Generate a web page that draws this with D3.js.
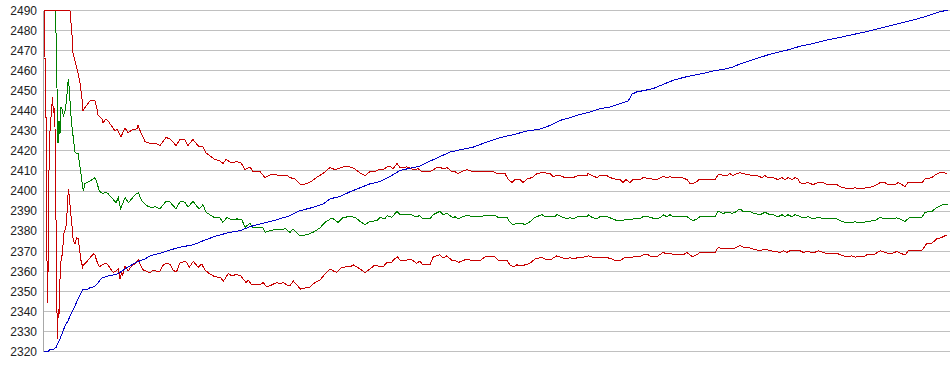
<!DOCTYPE html>
<html>
<head>
<meta charset="utf-8">
<script src="https://cdn.jsdelivr.net/npm/d3@7"></script>
<style>
  html, body { margin: 0; padding: 0; background: #ffffff; }
  svg { display: block; }
</style>
</head>
<body>
<svg id="chart" width="950" height="375"></svg>
<script>
// ---- data (x = sample step, y = value) ----
const yTickValues = [2320, 2330, 2340, 2350, 2360, 2370, 2380, 2390, 2400, 2410, 2420, 2430, 2440, 2450, 2460, 2470, 2480, 2490];
const stepDomain = [0, 452];

const upperBand = [[0,2466],[0.5,2490],[13,2490],[14,2478],[14.5,2469],[15.5,2465],[16.5,2461],[17,2459],[18,2454],[18.5,2450],[19,2446],[19.5,2440],[20,2441],[21.5,2443],[23,2445],[25.5,2445],[26.5,2441],[27,2438],[29,2436],[29.5,2434],[31,2436],[32,2435],[35.5,2430],[36.5,2431],[38.5,2427],[40.5,2431.5],[42,2429],[44,2430.5],[46.5,2431],[47,2432.7],[48.5,2429],[50.5,2424.7],[53,2423.7],[56.5,2423.5],[58,2422.7],[61,2426.7],[63,2426],[66,2422.7],[68,2425.7],[70.5,2425.5],[72,2422.7],[74.5,2425.7],[77.5,2422],[79.5,2422],[81,2419],[85.5,2415.7],[88,2415],[89.5,2413.7],[91,2415.7],[94,2414],[96.5,2414.7],[98.5,2414],[100.5,2410.7],[103,2412],[104.5,2409.7],[108,2409.7],[110.5,2406.7],[113,2408],[116.5,2408],[119,2407.7],[121.5,2408],[123,2406.7],[125.5,2406],[128.5,2403],[131.5,2403.7],[134,2405],[136.5,2407],[139.5,2408.7],[143,2411.7],[145.5,2410.7],[148,2411.5],[149.5,2412],[153,2412],[155.5,2411],[158,2409],[160.5,2407.7],[163,2409.7],[165.5,2409.7],[168,2411],[169.5,2410.7],[171.5,2412],[173.5,2412],[174.5,2411],[176.5,2413.7],[178,2411.7],[181.5,2412],[184,2411],[185.5,2410.7],[187,2411.2],[189,2409.7],[193,2409.7],[196.5,2411.7],[198,2412],[199.5,2411],[201.5,2411.7],[204,2409.7],[205.5,2409.7],[207,2408.7],[209,2409.7],[211.5,2410.7],[214.5,2409.7],[224.5,2409.7],[226.5,2408.7],[230.5,2408.7],[232,2406],[234,2404.2],[235.5,2405.7],[238,2405.7],[239.5,2404.2],[241.5,2406],[244,2406.7],[246.5,2408.7],[249.5,2409.2],[253,2408.7],[254.5,2407.2],[257,2408],[260.5,2406.7],[263,2407],[264.5,2406.7],[267,2407.7],[271.5,2407.7],[272,2408.7],[274,2407.7],[276.5,2406.7],[278,2407.7],[281.5,2407.7],[283,2406.7],[285.5,2406],[288,2405.7],[289.5,2404.2],[291,2405.7],[293,2404.2],[294.5,2405.7],[298,2405.7],[299.5,2406.7],[304,2406],[306.5,2405.7],[309.5,2407.2],[311.5,2406.7],[313,2407.2],[314.5,2406.7],[319,2406.7],[321.5,2405.7],[323,2403.7],[324.5,2403.7],[326.5,2404.7],[327.5,2405.7],[335.5,2405.7],[337,2408],[339,2408],[341.5,2407.7],[343,2408.7],[344.5,2407.7],[346.5,2408.7],[348,2409.2],[349.5,2408.7],[353,2408],[356.5,2407.7],[359,2406.7],[360.5,2407.7],[362,2406.7],[364.5,2406.7],[367,2405.7],[369,2406.7],[370.5,2405.7],[372,2406.7],[374,2405.7],[375.5,2406.7],[377,2406],[378,2404.2],[379.5,2403.7],[382,2404.2],[384.5,2403.2],[387,2404.2],[389.5,2404.2],[391.5,2403.2],[396.5,2403.2],[398,2402.2],[401.5,2401.2],[404,2401.2],[405.5,2401.7],[407,2401.2],[409.5,2401.2],[411.5,2401.7],[414.5,2402.2],[416.5,2403.2],[418,2404.2],[420.5,2404.2],[422,2403.2],[425.5,2403.2],[427,2404.2],[429,2403.2],[430.5,2402.2],[432,2404.2],[439,2404.2],[440.5,2406],[444,2406.7],[445.5,2408],[448,2409.2],[449.5,2409.2],[451.5,2408.7]];

const middleLine = [[0,2490],[5.5,2490],[6,2479],[7,2423.7],[7.5,2435],[8,2428.7],[8.5,2442],[9,2441],[9.7,2437.7],[10.5,2440],[11.3,2445],[11.7,2451.7],[12.2,2455.7],[12.7,2450],[13.3,2440],[13.8,2433.7],[14.7,2426],[15,2423.7],[15.5,2419.4],[16.3,2418.7],[17.2,2418.7],[17.7,2413.7],[18.3,2410],[18.8,2406],[19.7,2400],[20.5,2403.7],[23,2405],[25.5,2406.7],[26.3,2404.5],[27.7,2400],[29.3,2398.7],[31,2399.5],[32.2,2398.5],[34.7,2395.7],[36,2394.2],[37.2,2396.7],[38.3,2391.2],[40.5,2396.7],[42.2,2394.2],[44.3,2396.7],[46.3,2398.7],[47.2,2399.2],[48.8,2395.2],[51.3,2392.7],[53.8,2391.7],[55.5,2392.2],[58,2391.2],[61,2394.9],[63,2394.5],[66,2391.1],[68,2394.7],[70.5,2394.5],[72,2392],[74.5,2394.9],[77.5,2391.1],[79.5,2393.2],[81,2389.4],[85.5,2386.6],[88,2386.6],[89.5,2384.4],[91.5,2386.9],[94,2385.6],[96.5,2386.1],[99,2385.6],[100.5,2381.9],[103,2383.9],[104.5,2381.6],[109.5,2381.6],[110.5,2379.4],[113,2380.2],[117,2381.1],[119.5,2380.6],[120.5,2381.4],[123,2379.4],[124.5,2381.1],[128,2377.7],[131.5,2378.2],[134.5,2379.4],[138,2381.6],[140.5,2384.4],[144,2386.6],[147,2384.4],[149.5,2386.9],[153,2387.2],[155.5,2386.9],[158,2384.9],[160.5,2383.2],[163,2384.9],[166.5,2385.2],[168,2386.9],[170.5,2386.1],[171.5,2387.7],[174,2386.9],[176.5,2389.9],[178,2388.2],[181.5,2388.2],[183,2388.5],[185.5,2387.2],[188,2387.7],[189.5,2386.1],[193,2386.1],[194.5,2388.2],[198,2389.9],[199.5,2388.2],[201.5,2388.9],[204.5,2386.6],[205.5,2387.2],[207,2386.1],[209.5,2387.2],[211.5,2388],[214.5,2387.2],[218,2387.2],[221.5,2388],[225.5,2388],[227,2386.9],[231.5,2386.9],[233,2384.4],[234.5,2383.2],[236.5,2383.9],[239,2383.9],[240.5,2383.2],[243,2384.7],[245.5,2386.9],[249,2388.2],[250.5,2387.2],[255.5,2387.2],[256.5,2388.2],[259.5,2386.9],[261.5,2386.1],[263,2386.9],[264.5,2386.1],[267,2387.2],[271.5,2387.2],[272,2388.2],[274,2386.9],[276.5,2386.1],[278,2387.2],[281.5,2387.2],[284.5,2386.1],[286.5,2385.2],[289,2385.2],[291.5,2386.1],[293,2385.6],[294.5,2386.1],[298,2386.1],[299.5,2387.2],[302,2387.2],[304,2386.6],[306.5,2386.1],[308.5,2386.9],[309.5,2388.2],[311.5,2387.2],[313,2388.2],[314.5,2387.2],[321.5,2387.2],[323,2386.1],[324.5,2385.2],[326.5,2386.1],[328,2387.2],[335.5,2387.2],[337,2389.9],[339.5,2388.9],[342,2389.4],[344,2388.9],[345.5,2389.4],[348,2391.1],[349.5,2389.9],[353,2389.9],[354.5,2389.1],[358,2388.2],[360.5,2389.4],[363,2388.2],[364.5,2388.2],[367,2387.2],[369,2388.2],[370.5,2387.2],[372,2388.2],[374,2387.2],[375.5,2388.2],[377,2387.7],[379.5,2386.6],[382,2387.2],[384.5,2386.1],[387,2386.9],[390.5,2386.1],[396.5,2386.1],[398,2385.2],[401.5,2384.1],[404,2384.1],[405.5,2384.9],[407,2384.1],[409.5,2384.1],[411.5,2384.9],[415.5,2385.2],[418,2386.9],[420.5,2386.1],[423,2386.1],[426.5,2386.6],[428,2386.1],[430.5,2384.9],[433,2386.9],[439,2386.9],[440.5,2389.4],[444,2389.9],[446.5,2391.9],[449.5,2393.2],[452,2393.2]];

const lowerBand = [[0,2466],[0.8,2466],[1.65,2344],[2.15,2366],[2.5,2410],[3,2430],[3.85,2441.7],[4.35,2446.7],[4.65,2438.7],[5,2441.7],[5.5,2431.7],[6.65,2326],[7.15,2341],[7.5,2338],[8,2356],[8.35,2364],[9.15,2368.7],[10,2379],[11,2382.5],[11.65,2391],[12.15,2401],[12.65,2397.7],[13.35,2389],[14,2382.5],[14.65,2375],[15.5,2373.7],[16.35,2376.7],[17.15,2376.2],[17.65,2372],[18.35,2366],[19.35,2362],[19.65,2363],[21.35,2364.7],[23,2366.7],[24.65,2368.7],[25.5,2368],[26.35,2365.2],[27.65,2362.2],[28.85,2363],[30.5,2364],[31.35,2364],[33,2361.6],[34.65,2359.4],[36,2360.2],[37.15,2361],[38,2356.1],[38.85,2359.4],[39.35,2358],[40.5,2362.7],[42.15,2360.2],[43.85,2362.7],[45.5,2363.6],[47.15,2365.6],[48,2363.6],[49.65,2360.6],[51.35,2360],[53,2359.2],[54.65,2360.6],[56.35,2360],[58,2360],[59.65,2363.2],[61.25,2363.9],[63,2363.5],[64.65,2360.2],[66.35,2360],[68,2364.2],[70.5,2364.9],[71.65,2364],[72.65,2362],[74.65,2364.9],[77.15,2362],[78.85,2363.6],[80.5,2360.6],[83,2358.6],[85.5,2357.2],[88.35,2357],[89.65,2354.9],[92.15,2358.9],[93.85,2357.7],[95.5,2358.2],[98,2358.1],[99.65,2356.1],[101,2354.4],[102.15,2355.6],[103.85,2353.2],[108,2353.2],[109.65,2354.4],[111.35,2352.2],[113.85,2353.2],[116.35,2354.4],[118,2353.6],[119.65,2354.4],[121.35,2353.2],[123,2352.7],[124.65,2355.2],[126.35,2353.2],[128.35,2351.1],[130.5,2351.6],[133,2352.2],[135.5,2354.4],[138,2355.6],[140.5,2358.6],[143,2361.1],[144.65,2360.2],[146.35,2359.4],[148.85,2361.9],[151.35,2362.2],[153,2362.2],[154.65,2363.2],[156.35,2362.2],[158,2361.1],[160.5,2359.4],[163,2361.1],[165.5,2363.2],[168,2362.2],[169.65,2362.2],[171.35,2364.4],[173.85,2364.4],[174.65,2365.6],[176.65,2367.2],[178,2365.6],[181.35,2365.6],[183,2366.1],[184.65,2365.2],[186.35,2363.9],[188,2365.2],[189.35,2363.2],[193,2363.2],[194.65,2367.2],[198,2368.2],[199.65,2366.6],[201.35,2367.7],[203.85,2365.6],[205.5,2365.6],[207.15,2364.4],[209.35,2365.2],[211.35,2366.1],[214.65,2365.2],[218,2365.2],[220.5,2367.2],[225.5,2367.2],[227.15,2365.6],[231.35,2365.6],[233,2363.2],[234.65,2362.2],[236.35,2363.2],[238.85,2362.7],[240.5,2363.2],[243,2364],[245.5,2366.1],[248.85,2366.9],[250.5,2366.1],[253.85,2366.1],[256.35,2367.7],[259.65,2366.6],[261.35,2366.1],[263,2366.9],[264.65,2366.1],[267.15,2366.9],[271.35,2367.2],[272.15,2367.7],[274.65,2366.9],[276.35,2366.6],[278,2366.9],[281.35,2366.9],[283.85,2366.1],[286.35,2365.2],[288,2365.2],[290.5,2366.9],[293,2366.6],[294.65,2367.2],[298,2367.2],[299.65,2368.2],[302.15,2368.2],[303.85,2367.2],[306.35,2367.2],[308.35,2368.6],[309.65,2369.4],[311.35,2368.6],[313,2369],[314.65,2368.2],[319.65,2368.2],[321.35,2369.4],[323,2368.2],[324.35,2367.2],[326.35,2368.2],[328,2369.4],[335.5,2369.4],[337.15,2371.9],[339.65,2371.1],[342.15,2371.6],[343.85,2371.1],[345.5,2371.6],[348,2372.9],[349.65,2371.9],[353,2371.6],[354.65,2371.1],[358,2370.2],[360.5,2371.1],[363,2370.2],[366.35,2369.9],[367.65,2369.1],[369.65,2370.2],[371.35,2369.4],[373,2370.2],[378,2370.2],[379.65,2369.4],[382.15,2369.9],[384.65,2369.1],[387.15,2370.2],[390.5,2369.1],[396.35,2369.1],[398,2368.2],[401.35,2367.2],[403.85,2367.7],[405.5,2367.1],[409.65,2367.2],[411.35,2368.2],[415.5,2368.6],[418,2370.2],[421.35,2369.1],[424.65,2369.1],[426.35,2369.9],[428,2369.1],[430.5,2368.1],[432.15,2370.2],[438.85,2370.2],[441.35,2373.9],[443.85,2373.9],[446.35,2376.1],[448.85,2376.9],[451.65,2378.2]];

const trendLine = [[0,2320.2],[2.15,2320.2],[3,2321.1],[4.65,2321.1],[6,2322],[7.15,2324.4],[8,2326.1],[8.85,2328.5],[10.5,2332.7],[12.15,2335.6],[13.85,2339.4],[15.5,2342.7],[17.15,2346.6],[19.35,2350.8],[21.65,2350.8],[23,2351.9],[25,2352.2],[27.15,2354.4],[28.85,2356.6],[31.35,2357.5],[34.65,2358.2],[37.15,2358.8],[38.85,2360],[40.5,2361.2],[43.85,2363.2],[46.35,2364.5],[48.85,2365.6],[50.5,2366.1],[53,2367.7],[58,2369],[63,2370.6],[68,2372],[74.65,2373.2],[80.5,2375.6],[86.35,2377.7],[93,2379.4],[98,2380.2],[103,2382.2],[108,2383.6],[114.65,2385.2],[123,2387.7],[128,2390.2],[134.65,2391.9],[139.65,2393.6],[143,2396.1],[148,2397.3],[153,2399.6],[158,2401.6],[163,2403.6],[168,2404.7],[173,2407.2],[178,2410.2],[183,2411.4],[188,2412.4],[193,2414.9],[198,2417.2],[203,2419.4],[208,2420.6],[214.65,2421.9],[221.35,2424.4],[228,2426.6],[234.65,2428.1],[241.35,2429.9],[248,2430.9],[253,2432.7],[258,2435.2],[263,2436.6],[268,2438.2],[273,2439.4],[278,2441.1],[283,2441.9],[288,2443.6],[292.15,2444.9],[293.85,2448.2],[296.35,2449.4],[300.5,2450.2],[304.65,2451.1],[309.65,2453.2],[314.65,2455.2],[319.65,2456.6],[324.65,2457.7],[329.65,2458.6],[334.65,2459.9],[339.65,2460.6],[344.65,2461.9],[348,2463.4],[353,2465],[358,2466.6],[363,2468.2],[368,2469.4],[373,2470.6],[378,2472.2],[383,2473.2],[388,2474.4],[393,2475.6],[398,2476.6],[403,2477.7],[409.65,2479.1],[416.35,2480.7],[423,2482.4],[429.65,2484.1],[436.35,2485.7],[443,2487.7],[448,2489.4],[452,2490.2]];

// ---- layout ----
const svg = d3.select("#chart");
const plot = { left: 44, right: 948, top: 10.5, bottom: 351.5 };

const x = d3.scaleLinear().domain(stepDomain).range([plot.left, plot.right]);
const y = d3.scaleLinear().domain([2320, 2490]).range([plot.bottom, plot.top]);

svg.append("defs").append("clipPath").attr("id", "clip")
  .append("rect").attr("x", plot.left).attr("y", 10).attr("width", 950 - plot.left).attr("height", 342);

// grid lines
svg.append("g")
  .selectAll("line").data(yTickValues).join("line")
  .attr("x1", plot.left).attr("x2", 950)
  .attr("y1", d => y(d)).attr("y2", d => y(d))
  .attr("stroke", "#c0c0c0").attr("stroke-width", 1)
  .attr("shape-rendering", "crispEdges");

// y axis line
svg.append("line")
  .attr("x1", 43.5).attr("x2", 43.5)
  .attr("y1", y(2490)).attr("y2", y(2320))
  .attr("stroke", "#a8a8a8").attr("stroke-width", 1)
  .attr("shape-rendering", "crispEdges");

// tick labels
svg.append("g")
  .selectAll("text").data(yTickValues).join("text")
  .attr("x", 37).attr("y", d => y(d))
  .attr("dy", "0.36em")
  .attr("text-anchor", "end")
  .attr("font-family", "Liberation Sans, Arial, sans-serif")
  .attr("font-size", 12)
  .attr("fill", "#222")
  .text(d => d);

const line = d3.line().x(d => x(d[0])).y(d => y(d[1]));
const g = svg.append("g").attr("clip-path", "url(#clip)");

const series = [
  { data: middleLine, color: "#008000" },
  { data: lowerBand, color: "#c80000" },
  { data: upperBand, color: "#c80000" },
  { data: trendLine, color: "#0000c8" }
];
g.selectAll("path").data(series).join("path")
  .attr("d", d => line(d.data))
  .attr("fill", "none")
  .attr("stroke", d => d.color)
  .attr("stroke-width", 1)
  .attr("shape-rendering", "crispEdges");
</script>
</body>
</html>
